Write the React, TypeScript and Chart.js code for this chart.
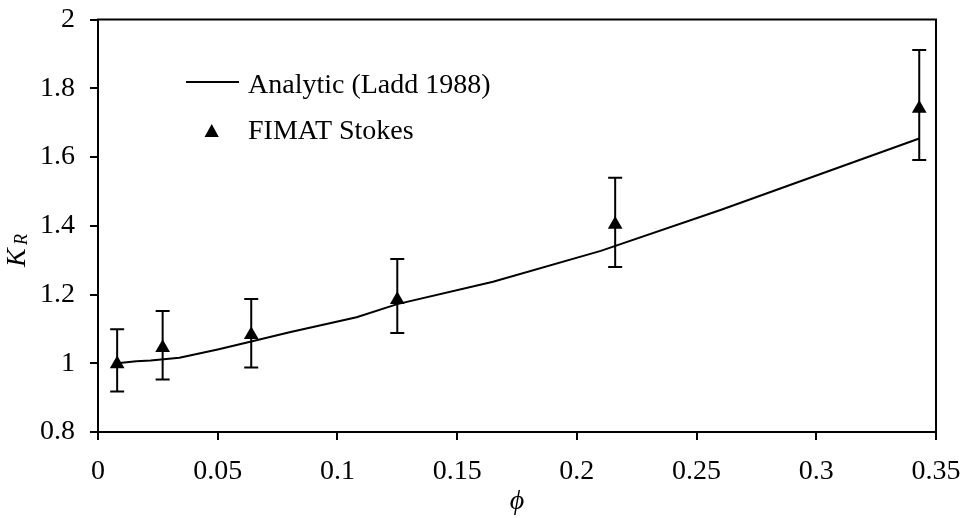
import React, { useEffect, useRef } from "react";
import { Chart, registerables } from "chart.js";

Chart.register(...registerables);

// Analytic (Ladd 1988) curve
const analyticPhi = [0.008, 0.016, 0.022, 0.034, 0.05, 0.064, 0.08, 0.108, 0.125, 0.165, 0.21, 0.26, 0.343];
const analyticK = [1.0, 1.006, 1.008, 1.016, 1.04, 1.063, 1.09, 1.134, 1.172, 1.237, 1.327, 1.446, 1.654];

// FIMAT Stokes results
const fimatPhi = [0.008, 0.027, 0.064, 0.125, 0.216, 0.343];
const fimatK = [0.998, 1.045, 1.083, 1.185, 1.404, 1.741];
const fimatLow = [0.918, 0.953, 0.988, 1.088, 1.28, 1.591];
const fimatHigh = [1.099, 1.152, 1.187, 1.303, 1.54, 1.911];

const xTicks = [0, 0.05, 0.1, 0.15, 0.2, 0.25, 0.3, 0.35];
const yTicks = [0.8, 1, 1.2, 1.4, 1.6, 1.8, 2];

const seriesNames = ["Analytic (Ladd 1988)", "FIMAT Stokes"];
const xTitle = "\u03d5";
const yTitleMain = "K";
const yTitleSub = "R";

const FONT = "'Times New Roman', 'Liberation Serif', serif";
const FS = 28;

export default function App() {
  const ref = useRef<HTMLCanvasElement | null>(null);

  useEffect(() => {
    const canvas = ref.current;
    if (!canvas) return;

    const extras = {
      id: "extras",
      beforeDatasetsDraw(chart: any) {
        const ctx = chart.ctx;
        const xs = chart.scales.x;
        const ys = chart.scales.y;
        ctx.save();
        ctx.strokeStyle = "#000";
        ctx.lineWidth = 2;
        for (let i = 0; i < fimatPhi.length; i++) {
          const px = xs.getPixelForValue(fimatPhi[i]);
          const lo = ys.getPixelForValue(fimatLow[i]);
          const hi = ys.getPixelForValue(fimatHigh[i]);
          ctx.beginPath();
          ctx.moveTo(px, lo);
          ctx.lineTo(px, hi);
          ctx.moveTo(px - 7, lo);
          ctx.lineTo(px + 7, lo);
          ctx.moveTo(px - 7, hi);
          ctx.lineTo(px + 7, hi);
          ctx.stroke();
        }
        ctx.restore();
      },
      afterDraw(chart: any) {
        const ctx = chart.ctx;
        const a = chart.chartArea;
        ctx.save();
        ctx.strokeStyle = "#000";
        ctx.lineWidth = 2;
        ctx.strokeRect(a.left, a.top, a.right - a.left, a.bottom - a.top);

        // legend
        ctx.beginPath();
        ctx.moveTo(186, 82);
        ctx.lineTo(239, 82);
        ctx.stroke();
        ctx.fillStyle = "#000";
        ctx.beginPath();
        ctx.moveTo(211.7, 124);
        ctx.lineTo(218.8, 137);
        ctx.lineTo(204.6, 137);
        ctx.closePath();
        ctx.fill();
        ctx.font = `${FS}px ${FONT}`;
        ctx.textAlign = "left";
        ctx.textBaseline = "alphabetic";
        ctx.fillText(seriesNames[0], 248, 93);
        ctx.fillText(seriesNames[1], 248, 139);

        // x title
        ctx.font = `italic ${FS}px ${FONT}`;
        ctx.textAlign = "center";
        ctx.fillText(xTitle, (a.left + a.right) / 2, 509);

        // y title
        ctx.translate(25, 267);
        ctx.rotate(-Math.PI / 2);
        ctx.textAlign = "left";
        ctx.font = `italic ${FS}px ${FONT}`;
        ctx.fillText(yTitleMain, 0, 0);
        ctx.font = `italic 18px ${FONT}`;
        ctx.fillText(yTitleSub, 22, 2);
        ctx.restore();
      },
    };

    const fmt = (v: any) => String(+Number(v).toFixed(3));

    const chart = new Chart(canvas, {
      type: "scatter",
      data: {
        datasets: [
          {
            label: seriesNames[0],
            data: analyticPhi.map((x, i) => ({ x, y: analyticK[i] })),
            showLine: true,
            borderColor: "#000",
            borderWidth: 2,
            pointRadius: 0,
            tension: 0,
          },
          {
            label: seriesNames[1],
            data: fimatPhi.map((x, i) => ({ x, y: fimatK[i] })),
            showLine: false,
            pointStyle: "triangle",
            pointRadius: 8.5,
            backgroundColor: "#000",
            borderColor: "#000",
            borderWidth: 0,
          },
        ],
      },
      options: {
        responsive: false,
        animation: false,
        layout: { padding: { top: 19.5, right: 30, bottom: 0, left: 0 } },
        plugins: { legend: { display: false }, tooltip: { enabled: false } },
        scales: {
          x: {
            type: "linear",
            min: 0,
            max: 0.35,
            afterBuildTicks: (s: any) => {
              s.ticks = xTicks.map((v) => ({ value: v }));
            },
            afterFit: (s: any) => {
              s.height = 86;
              s.paddingLeft = 0;
              s.paddingRight = 0;
            },
            ticks: {
              color: "#000",
              font: { family: FONT, size: FS },
              padding: 15,
              maxRotation: 0,
              autoSkip: false,
              callback: fmt,
            },
            grid: { drawOnChartArea: false, drawTicks: true, tickLength: 8, color: "#000", lineWidth: 2 },
            border: { color: "#000", width: 2 },
          },
          y: {
            type: "linear",
            min: 0.8,
            max: 2,
            afterBuildTicks: (s: any) => {
              s.ticks = yTicks.map((v) => ({ value: v }));
            },
            afterFit: (s: any) => {
              s.width = 98;
              s.paddingTop = 0;
              s.paddingBottom = 0;
            },
            ticks: {
              color: "#000",
              font: { family: FONT, size: FS },
              padding: 15,
              autoSkip: false,
              callback: fmt,
            },
            grid: { drawOnChartArea: false, drawTicks: true, tickLength: 8, color: "#000", lineWidth: 2 },
            border: { color: "#000", width: 2 },
          },
        },
      },
      plugins: [extras],
    });

    return () => chart.destroy();
  }, []);

  return (
    <div style={{ position: "fixed", left: 0, top: 0, width: 966, height: 518, background: "#fff" }}>
      <canvas ref={ref} width={966} height={518} />
    </div>
  );
}
